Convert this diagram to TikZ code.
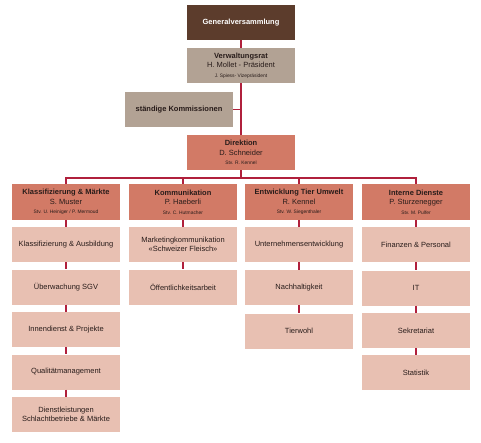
\documentclass[tikz,border=0pt]{standalone}
\usepackage{fontspec}
\setmainfont{Liberation Sans}
\usetikzlibrary{positioning, calc}

\definecolor{gvbraun}{RGB}{92,60,44}
\definecolor{vrgrau}{RGB}{178,162,148}
\definecolor{dirrot}{RGB}{210,122,102}
\definecolor{abtrosa}{RGB}{232,192,178}
\definecolor{linierot}{RGB}{176,32,60}
\definecolor{textdunkel}{RGB}{40,28,26}

\newcommand{\klein}[1]{{\fontsize{4.9}{5.5}\selectfont #1}}

\tikzset{
  box/.style={minimum width=108pt, minimum height=35pt, inner sep=0pt, align=center, text=textdunkel, font=\fontsize{7.5}{9.5}\selectfont},
  gvbox/.style={box, fill=gvbraun, text=white, font=\bfseries\fontsize{7.5}{9.5}\selectfont},
  vrbox/.style={box, fill=vrgrau},
  dirbox/.style={box, fill=dirrot},
  abtbox/.style={box, fill=dirrot, minimum height=36pt},
  unitbox/.style={box, fill=abtrosa},
  linie/.style={draw=linierot, line width=1.2pt}
}

\begin{document}
\begin{tikzpicture}[x=1pt, y=-1pt]
\useasboundingbox (0,0) rectangle (481,443);

\node (gv) at (241, 22.5) [gvbox] {Generalversammlung};
\node (vr) at (241, 65.5) [vrbox] {\textbf{Verwaltungsrat}\\H. Mollet - Präsident\\\klein{J. Spiess- Vizepräsident}};
\node (komm) at (179, 109.5) [vrbox] {\textbf{ständige Kommissionen}};
\node (dir) at (241, 152.5) [dirbox] {\textbf{Direktion}\\D. Schneider\\\klein{Stv. R. Kennel}};

% Abteilungen
\node (k1) at (66, 202) [abtbox] {\textbf{Klassifizierung \& Märkte}\\S. Muster\\\klein{Stv. U. Heiniger / P. Mermoud}};
\node (k2) at (183, 202) [abtbox] {\textbf{Kommunikation}\\P. Haeberli\\\klein{Stv. C. Hutmacher}};
\node (k3) at (299, 202) [abtbox] {\textbf{Entwicklung Tier Umwelt}\\R. Kennel\\\klein{Stv. W. Siegenthaler}};
\node (k4) at (416, 202) [abtbox] {\textbf{Interne Dienste}\\P. Sturzenegger\\\klein{Stv. M. Pulfer}};

% Bereiche
\node (k1a) at (66, 244.5) [unitbox] {Klassifizierung \& Ausbildung};
\node (k1b) at (66, 287) [unitbox] {Überwachung SGV};
\node (k1c) at (66, 329.5) [unitbox] {Innendienst \& Projekte};
\node (k1d) at (66, 372) [unitbox] {Qualitätmanagement};
\node (k1e) at (66, 414.5) [unitbox] {Dienstleistungen\\Schlachtbetriebe \& Märkte};

\node (k2a) at (183, 244.5) [unitbox] {Marketingkommunikation\\«Schweizer Fleisch»};
\node (k2b) at (183, 287) [unitbox] {Öffentlichkeitsarbeit};

\node (k3a) at (299, 244.5) [unitbox] {Unternehmensentwicklung};
\node (k3b) at (299, 287.5) [unitbox] {Nachhaltigkeit};
\node (k3c) at (299, 331) [unitbox] {Tierwohl};

\node (k4a) at (416, 244.5) [unitbox] {Finanzen \& Personal};
\node (k4b) at (416, 288) [unitbox] {IT};
\node (k4c) at (416, 330.5) [unitbox] {Sekretariat};
\node (k4d) at (416, 372.5) [unitbox] {Statistik};

\coordinate (bus) at (241, 178);

\draw[linie] (gv) -- (vr);
\draw[linie] (vr) -- (dir);
\draw[linie] (komm.east) -- (komm.east -| vr.south);
\draw[linie] (dir) -- (bus);
\draw[linie] (k1.north) |- (bus) -| (k4.north);
\draw[linie] (bus -| k2.north) -- (k2.north);
\draw[linie] (bus -| k3.north) -- (k3.north);

\draw[linie] (k1) -- (k1a);
\draw[linie] (k1a) -- (k1b);
\draw[linie] (k1b) -- (k1c);
\draw[linie] (k1c) -- (k1d);
\draw[linie] (k1d) -- (k1e);
\draw[linie] (k2) -- (k2a);
\draw[linie] (k2a) -- (k2b);
\draw[linie] (k3) -- (k3a);
\draw[linie] (k3a) -- (k3b);
\draw[linie] (k3b) -- (k3c);
\draw[linie] (k4) -- (k4a);
\draw[linie] (k4a) -- (k4b);
\draw[linie] (k4b) -- (k4c);
\draw[linie] (k4c) -- (k4d);
\end{tikzpicture}
\end{document}
